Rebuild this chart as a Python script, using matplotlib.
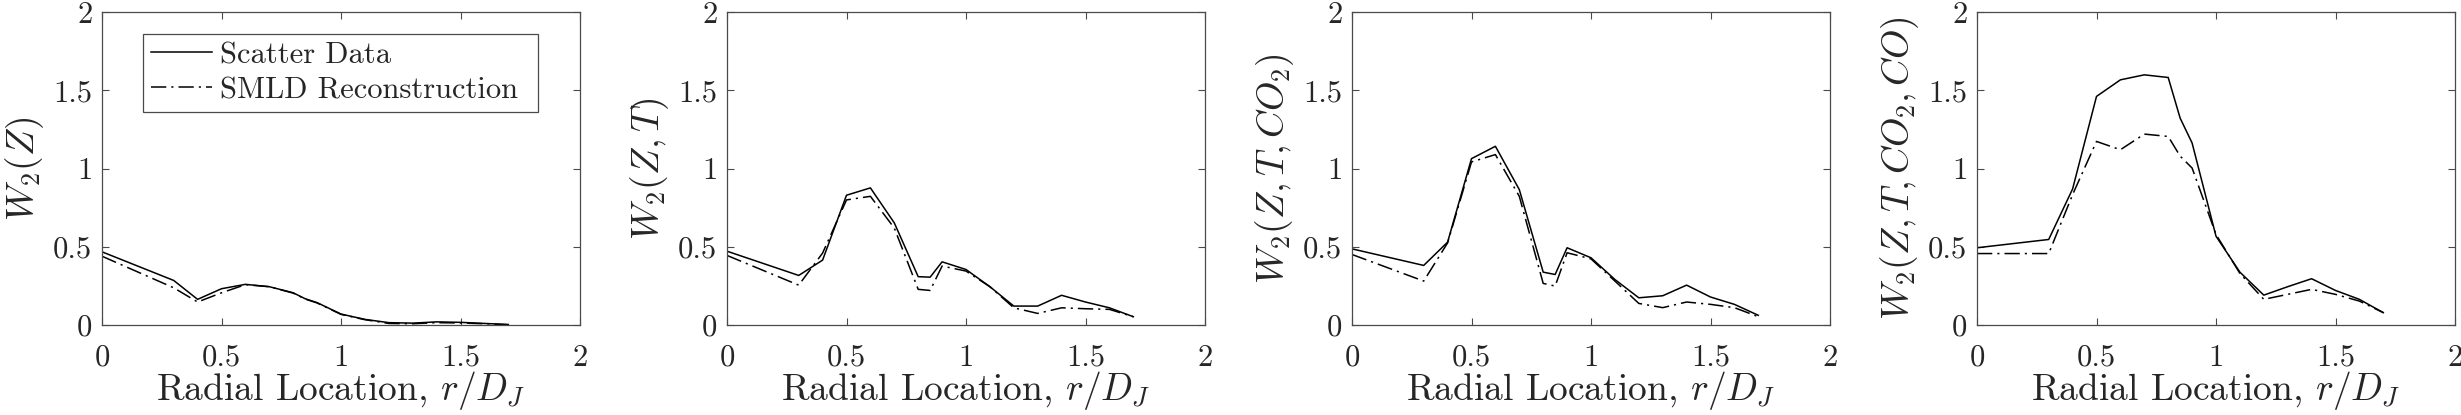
import matplotlib
matplotlib.use("Agg")
import matplotlib.pyplot as plt

plt.rcParams['font.family'] = 'cmr10'
plt.rcParams['mathtext.fontset'] = 'cm'
plt.rcParams['axes.formatter.use_mathtext'] = True

r = [0, 0.3, 0.4, 0.5, 0.6, 0.7, 0.8, 0.85, 0.9, 1.0, 1.1, 1.2, 1.3, 1.4, 1.5, 1.6, 1.7]

scatter_Z = [0.468, 0.285, 0.164, 0.232, 0.260, 0.245, 0.206, 0.168, 0.143, 0.070, 0.036, 0.015, 0.012, 0.020, 0.017, 0.010, 0.003]
smld_Z    = [0.440, 0.238, 0.147, 0.206, 0.258, 0.245, 0.204, 0.166, 0.141, 0.068, 0.034, 0.010, 0.008, 0.015, 0.013, 0.008, 0.002]

scatter_ZT = [0.472, 0.317, 0.415, 0.830, 0.877, 0.653, 0.309, 0.306, 0.404, 0.355, 0.245, 0.121, 0.121, 0.190, 0.147, 0.110, 0.053]
smld_ZT    = [0.445, 0.255, 0.460, 0.800, 0.823, 0.620, 0.228, 0.221, 0.377, 0.345, 0.245, 0.110, 0.074, 0.110, 0.104, 0.100, 0.053]

scatter_ZTC = [0.487, 0.381, 0.530, 1.064, 1.143, 0.866, 0.338, 0.323, 0.494, 0.430, 0.291, 0.174, 0.187, 0.255, 0.179, 0.132, 0.062]
smld_ZTC    = [0.451, 0.281, 0.525, 1.043, 1.090, 0.823, 0.266, 0.249, 0.462, 0.423, 0.281, 0.138, 0.111, 0.147, 0.132, 0.111, 0.053]

scatter_ZTCC = [0.494, 0.547, 0.870, 1.462, 1.568, 1.600, 1.583, 1.323, 1.164, 0.568, 0.338, 0.191, 0.245, 0.296, 0.221, 0.164, 0.079]
smld_ZTCC    = [0.457, 0.457, 0.834, 1.174, 1.121, 1.221, 1.206, 1.080, 1.004, 0.579, 0.330, 0.164, 0.196, 0.228, 0.196, 0.153, 0.079]

ylabels = [r'$W_2(Z)$', r'$W_2(Z,T)$', r'$W_2(Z,T,CO_2)$', r'$W_2(Z,T,CO_2,CO)$']
xlabel = r'Radial Location, $r/D_J$'
ticks = [0, 0.5, 1, 1.5, 2]
ticklabels = ['0', '0.5', '1', '1.5', '2']
legend_labels = ['Scatter Data', 'SMLD Reconstruction']

scatter_sets = [scatter_Z, scatter_ZT, scatter_ZTC, scatter_ZTCC]
smld_sets = [smld_Z, smld_ZT, smld_ZTC, smld_ZTCC]

W, H = 2461, 415
fig = plt.figure(figsize=(W / 100, H / 100), dpi=100)

spine_col = '#4a4a4a'
dashdot = (0, (10, 3.3, 1.4, 3.3))

for i in range(4):
    left = (102 + 625 * i) / W
    ax = fig.add_axes([left, 90 / H, 478 / W, 312.7 / H])
    ax.plot(r, scatter_sets[i], color='black', lw=1.1, label=legend_labels[0])
    ax.plot(r, smld_sets[i], color='black', lw=1.1, linestyle=dashdot, label=legend_labels[1])
    ax.set_xlim(0, 2)
    ax.set_ylim(0, 2)
    ax.set_xticks(ticks)
    ax.set_xticklabels(ticklabels)
    ax.set_yticks(ticks)
    ax.set_yticklabels(ticklabels)
    ax.tick_params(direction='in', length=5, width=0.8, colors=spine_col,
                   labelcolor='#262626', labelsize=22, top=True, right=True)
    ax.tick_params(axis='x', pad=14)
    ax.tick_params(axis='y', pad=7)
    for s in ax.spines.values():
        s.set_color(spine_col)
        s.set_linewidth(0.9)
    ax.set_xlabel(xlabel, fontsize=27, color='#262626', labelpad=-2)
    ax.set_ylabel(ylabels[i], fontsize=27, color='#262626', labelpad=5)
    if i == 0:
        leg = ax.legend(loc='upper left', bbox_to_anchor=(0.0864, 0.665, 0.8256, 0.2656),
                        mode='expand', borderaxespad=0, fontsize=22, handlelength=2.0,
                        handletextpad=0.25, borderpad=0.25, labelspacing=0.25,
                        fancybox=False, framealpha=1, edgecolor=spine_col)
        leg.get_frame().set_linewidth(0.9)
        for t in leg.get_texts():
            t.set_color('#262626')

fig.savefig('out.png', dpi=100)
